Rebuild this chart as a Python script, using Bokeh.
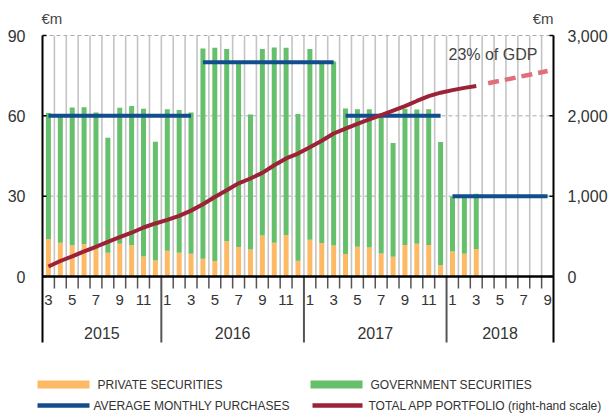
from bokeh.plotting import figure
from bokeh.models import Range1d, ColumnDataSource
from bokeh.core.properties import value
from bokeh.embed import file_html
from bokeh.resources import INLINE

# ---------------- data ----------------
years = ["2015", "2016", "2017", "2018"]
month_numbers = [3, 4, 5, 6, 7, 8, 9, 10, 11, 12,
                 1, 2, 3, 4, 5, 6, 7, 8, 9, 10, 11, 12,
                 1, 2, 3, 4, 5, 6, 7, 8, 9, 10, 11, 12,
                 1, 2, 3, 4, 5, 6, 7, 8, 9]
month_years = (["2015"] * 10) + (["2016"] * 12) + (["2017"] * 12) + (["2018"] * 9)

# monthly purchases (bars), Mar 2015 - Mar 2018
private = [14.0, 12.6, 11.7, 12.0, 10.4, 8.9, 12.2, 11.7, 7.5, 6.0,
           9.6, 8.9, 8.5, 6.6, 5.8, 13.2, 11.0, 10.1, 15.3, 12.6, 15.5, 5.9,
           13.7, 12.5, 11.6, 8.4, 11.1, 10.8, 8.6, 7.4, 11.8, 12.2, 11.8, 4.2,
           9.3, 8.5, 10.3]
total = [61.1, 60.0, 63.1, 63.2, 61.2, 51.8, 63.0, 63.7, 62.6, 50.3,
         62.5, 62.2, 61.2, 85.1, 85.4, 85.0, 80.0, 60.5, 85.0, 85.5, 85.4, 60.7,
         85.0, 79.8, 80.3, 62.7, 62.5, 62.5, 60.8, 49.9, 62.6, 62.4, 62.5, 50.2,
         29.9, 29.6, 30.9]

# average monthly purchases by programme phase
avg_start = [0, 13, 25, 34]     # month index (Mar15, Apr16, Apr17, Jan18)
avg_end = [12, 24, 33, 42]      # month index (Mar16, Mar17, Dec17, Sep18)
avg_value = [60, 80, 60, 30]

# total APP portfolio (right-hand scale), Mar 2015 - Mar 2018
portfolio = [125, 193, 250, 312, 370, 432, 490, 545, 610, 660,
             705, 755, 820, 900, 990, 1075, 1160, 1220, 1290, 1385, 1470, 1530,
             1610, 1690, 1780, 1840, 1900, 1955, 2010, 2065, 2120, 2185, 2245, 2288,
             2320, 2348, 2372]
proj_index = [37, 42]           # Apr 2018 -> Sep 2018
proj_value = [2405, 2558]

left_ticks = [0, 30, 60, 90]
right_ticks = [0, 1000, 2000, 3000]

legend_labels = ["PRIVATE SECURITIES", "GOVERNMENT SECURITIES",
                 "AVERAGE MONTHLY PURCHASES", "TOTAL APP PORTFOLIO (right-hand scale)"]

# ---------------- colours / layout ----------------
C_PRIV = "#fdb963"
C_GOV = "#65bf6b"
C_AVG = "#124e8c"
C_APP = "#9c2238"
C_PROJ = "#e06f7b"
TXT = "#333333"
FONT = "Liberation Sans"

n = len(month_numbers)
W, H = 615, 414
AX_L, AX_R = 42.0, 553.0                 # page x of the two value axes
ppm = (AX_R - AX_L) / n                  # pixels per month
Y0, Y90 = 276.0, 35.0                    # page y of value 0 and 90
k = (Y0 - Y90) / 90.0
rk = (Y0 - Y90) / 3000.0
AXIS_MAX = 90


def yv(py):
    return (Y0 - py) / k


def xv(px):
    return (px - AX_L) / ppm - 0.5


XL, XR = -0.5, n - 0.5                   # data x of the axes

p = figure(width=W, height=H,
           x_range=Range1d(xv(0), xv(W)),
           y_range=Range1d(yv(H), yv(0)),
           output_backend="svg", toolbar_location=None,
           x_axis_location=None, y_axis_location=None,
           min_border_left=0, min_border_right=0,
           min_border_top=0, min_border_bottom=0)
p.outline_line_color = None
p.background_fill_color = "white"
p.border_fill_color = "white"
for g in p.grid:
    g.visible = False
p.extra_y_ranges = {"right": Range1d(-(H - Y0) / rk, Y0 / rk)}

sep_bottom = yv(342)
idx = list(range(n))

# horizontal dashed grid lines
gl = [t for t in left_ticks if t > 0]
p.segment(x0=[XL] * len(gl), y0=gl, x1=[XR] * len(gl), y1=gl,
          line_color="#a9a9a9", line_width=1, line_dash="4 3")

# vertical month grid lines
bounds_x = [i + 0.5 for i in range(n - 1)]
p.segment(x0=bounds_x, y0=[0] * len(bounds_x), x1=bounds_x, y1=[AXIS_MAX] * len(bounds_x),
          line_color="#c4c4c4", line_width=1.6)

# bars
nb = len(total)
src = ColumnDataSource(dict(x=idx[:nb], priv=private, tot=total))
p.vbar(x="x", width=0.42, bottom=0, top="priv", source=src, fill_color=C_PRIV, line_color=None)
p.vbar(x="x", width=0.42, bottom="priv", top="tot", source=src, fill_color=C_GOV, line_color=None)

# month ticks and year separators
tick_x, sep_x = [], []
for i in range(n - 1):
    b = i + 0.5
    if month_numbers[i + 1] == 1:
        sep_x.append(b)
    else:
        tick_x.append(b)
p.segment(x0=tick_x, y0=[0] * len(tick_x), x1=tick_x, y1=[yv(288)] * len(tick_x),
          line_color="#555555", line_width=1.5)
p.segment(x0=sep_x, y0=[0] * len(sep_x), x1=sep_x, y1=[sep_bottom] * len(sep_x),
          line_color="#555555", line_width=2)

# x axis line
p.segment(x0=[XL], y0=[0], x1=[XR], y1=[0], line_color="black", line_width=2.5)

# value axes (left and right) lines, ticks, labels
p.segment(x0=[XL, XR], y0=[sep_bottom, sep_bottom], x1=[XL, XR], y1=[AXIS_MAX, AXIS_MAX],
          line_color="black", line_width=2)
tick_len = 4 / ppm
p.segment(x0=[XL] * len(left_ticks), y0=left_ticks, x1=[XL + tick_len] * len(left_ticks),
          y1=left_ticks, line_color="black", line_width=1.5)
p.segment(x0=[XR - tick_len] * len(right_ticks), y0=right_ticks, x1=[XR] * len(right_ticks),
          y1=right_ticks, line_color="black", line_width=1.5, y_range_name="right")
p.text(x=[xv(25)] * len(left_ticks), y=left_ticks, text=[str(t) for t in left_ticks],
       text_align="right", text_baseline="middle", text_font=value(FONT),
       text_font_size="16px", text_color=TXT)
p.text(x=[xv(567)] * len(right_ticks), y=right_ticks, text=[f"{t:,}" for t in right_ticks],
       text_align="left", text_baseline="middle", text_font=value(FONT),
       text_font_size="16px", text_color=TXT, y_range_name="right")

# month and year labels
lab_x = [i for i in idx if month_numbers[i] % 2 == 1]
lab_t = [str(month_numbers[i]) for i in lab_x]
p.text(x=lab_x, y=[yv(299)] * len(lab_x), text=lab_t, text_align="center",
       text_baseline="middle", text_font=value(FONT), text_font_size="15px", text_color=TXT)

yr_x = [sum(i for i in idx if month_years[i] == y) / month_years.count(y) for y in years]
p.text(x=yr_x, y=[yv(332)] * len(years), text=years, text_align="center",
       text_baseline="middle", text_font=value(FONT), text_font_size="16px", text_color=TXT)

# average monthly purchases
p.segment(x0=avg_start, y0=avg_value, x1=avg_end, y1=avg_value,
          line_color=C_AVG, line_width=4, line_cap="butt")

# total APP portfolio
p.line(x=idx[:len(portfolio)], y=portfolio, y_range_name="right",
       line_color=C_APP, line_width=4, line_join="round")
p.line(x=proj_index, y=proj_value, y_range_name="right",
       line_color=C_PROJ, line_width=4.5, line_dash="11 6")

# annotation texts
p.text(x=[xv(41)], y=[yv(18)], text=["€m"], text_align="left", text_baseline="middle",
       text_font=value(FONT), text_font_size="15px", text_color="#444444")
p.text(x=[xv(553)], y=[yv(18)], text=["€m"], text_align="right", text_baseline="middle",
       text_font=value(FONT), text_font_size="15px", text_color="#444444")
p.text(x=[xv(448)], y=[yv(54)], text=["23% of GDP"], text_align="left", text_baseline="middle",
       text_font=value(FONT), text_font_size="16px", text_color="#444444")

# legend
leg_colors = [C_PRIV, C_GOV, C_AVG, C_APP]
sw_x0 = [xv(37), xv(310), xv(37), xv(312)]
sw_x1 = [xv(89), xv(362), xv(89), xv(362)]
row_y = [yv(384), yv(384), yv(405), yv(405)]
sw_w = [8, 8, 4.5, 4.5]
p.segment(x0=sw_x0, y0=row_y, x1=sw_x1, y1=row_y, line_color=leg_colors,
          line_width=sw_w, line_cap="butt")
tx = [xv(97), xv(370), xv(93), xv(368)]
p.text(x=tx, y=row_y, text=legend_labels, text_align="left", text_baseline="middle",
       text_font=value(FONT), text_font_size="12px", text_color=TXT)

open("out.html", "w").write(file_html(p, INLINE))
